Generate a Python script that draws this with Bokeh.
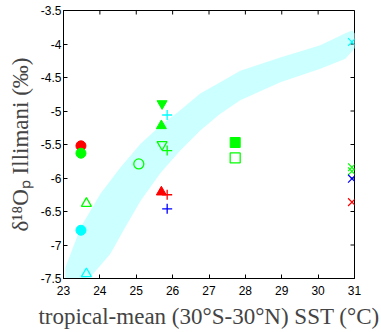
import math
from bokeh.plotting import figure
from bokeh.models import FixedTicker, Range1d
from bokeh.embed import file_html
from bokeh.resources import INLINE

# ---- axes / ticks ----
x_ticks = [23, 24, 25, 26, 27, 28, 29, 30, 31]
x_tick_labels = ["23", "24", "25", "26", "27", "28", "29", "30", "31"]
y_ticks = [-7.5, -7, -6.5, -6, -5.5, -5, -4.5, -4, -3.5]
y_tick_labels = ["-7.5", "-7", "-6.5", "-6", "-5.5", "-5", "-4.5", "-4", "-3.5"]
x_label = "tropical-mean (30°S-30°N) SST (°C)"
y_label = "δ¹⁸Oₚ Illimani (‰)"

# ---- shaded band (outline, data coords) ----
band_x = [23.05, 23.05, 23.47, 24.02, 24.57, 25.12, 25.66, 26.21, 26.76, 27.31, 27.86,
          28.96, 30.06, 30.75, 30.94, 31.10, 31.08,
          30.75, 30.06, 28.96, 27.86, 27.31, 26.76, 26.21, 25.66, 25.12, 24.65,
          24.29, 23.82, 23.27]
band_y = [-7.60, -7.34, -6.74, -6.23, -5.84, -5.49, -5.22, -4.99, -4.74, -4.57, -4.40,
          -4.20, -4.02, -3.84, -3.80, -3.89, -4.02,
          -4.22, -4.37, -4.57, -4.84, -5.04, -5.29, -5.59, -5.93, -6.34, -6.78,
          -7.13, -7.43, -7.60]

# ---- data points ----
circle_filled_x = [23.48, 23.48, 23.48]
circle_filled_y = [-5.52, -5.63, -6.78]
circle_filled_c = ["#ff0000", "#00ff00", "#00ffff"]

circle_open_x = [25.07]
circle_open_y = [-5.79]
circle_open_c = ["#00ff00"]

tri_open_x = [23.63, 23.63]
tri_open_y = [-6.38, -7.43]
tri_open_c = ["#00ff00", "#00ffff"]

tri_filled_x = [25.69, 25.69]
tri_filled_y = [-5.22, -6.21]
tri_filled_c = ["#00ff00", "#ff0000"]

itri_filled_x = [25.71]
itri_filled_y = [-4.89]
itri_filled_c = ["#00ff00"]

itri_open_x = [25.71]
itri_open_y = [-5.50]
itri_open_c = ["#00ff00"]

plus_x = [25.85, 25.85, 25.85, 25.85]
plus_y = [-5.06, -5.59, -6.25, -6.46]
plus_c = ["#00ffff", "#00ff00", "#ff0000", "#0000ff"]

square_filled_x = [27.72]
square_filled_y = [-5.47]
square_filled_c = ["#00ff00"]

square_open_x = [27.72]
square_open_y = [-5.70]
square_open_c = ["#00ff00"]

xmark_x = [30.93, 30.93, 30.93, 30.93, 30.93]
xmark_y = [-3.97, -5.84, -5.90, -6.01, -6.36]
xmark_c = ["#00ffff", "#00ff00", "#00ff00", "#0000ff", "#ff0000"]

x0, x1 = x_ticks[0], x_ticks[-1]
y0, y1 = y_ticks[0], y_ticks[-1]

p = figure(width=381, height=332, output_backend="svg", toolbar_location=None,
           x_range=Range1d(x0, x1), y_range=Range1d(y0, y1),
           min_border_left=63, min_border_right=27, min_border_top=10, min_border_bottom=54)
p.outline_line_color = "black"
p.outline_line_width = 1
p.xgrid.visible = False
p.ygrid.visible = False
p.background_fill_color = "white"

p.patch(band_x, band_y, fill_color="#ccffff", line_color=None)

# mirrored inward ticks on top and right edges (half of each dash is clipped by the frame)
p.scatter(x_ticks, [y1] * len(x_ticks), marker="dash", angle=math.pi / 2, size=8,
          line_color="black", line_width=1)
p.scatter([x1] * len(y_ticks), y_ticks, marker="dash", size=8,
          line_color="black", line_width=1)

p.scatter(circle_filled_x, circle_filled_y, marker="circle", size=10,
          fill_color=circle_filled_c, line_color=circle_filled_c)
p.scatter(circle_open_x, circle_open_y, marker="circle", size=10,
          fill_color=None, line_color=circle_open_c, line_width=1.3)
p.scatter(tri_open_x, tri_open_y, marker="triangle", size=10,
          fill_color=None, line_color=tri_open_c, line_width=1.3)
p.scatter(tri_filled_x, tri_filled_y, marker="triangle", size=10,
          fill_color=tri_filled_c, line_color=tri_filled_c)
p.scatter(itri_filled_x, itri_filled_y, marker="inverted_triangle", size=10,
          fill_color=itri_filled_c, line_color=itri_filled_c)
p.scatter(itri_open_x, itri_open_y, marker="inverted_triangle", size=10,
          fill_color=None, line_color=itri_open_c, line_width=1.3)
p.scatter(plus_x, plus_y, marker="cross", size=10,
          line_color=plus_c, line_width=1.3)
p.scatter(square_filled_x, square_filled_y, marker="square", size=10,
          fill_color=square_filled_c, line_color=square_filled_c)
p.scatter(square_open_x, square_open_y, marker="square", size=10,
          fill_color=None, line_color=square_open_c, line_width=1.3)
p.scatter(xmark_x, xmark_y, marker="x", size=11,
          line_color=xmark_c, line_width=1.2)

x_over = {t: l for t, l in zip(x_ticks, x_tick_labels)}
y_over = {t: l for t, l in zip(y_ticks, y_tick_labels)}

def style(ax, ticks, over):
    ax.ticker = FixedTicker(ticks=ticks)
    ax.major_tick_in = 4
    ax.major_tick_out = 0
    ax.minor_tick_line_color = None
    ax.axis_line_color = "black"
    ax.major_tick_line_color = "black"
    ax.axis_line_width = 1
    ax.major_label_overrides = over
    ax.major_label_text_font = "Liberation Sans"
    ax.major_label_text_font_size = "12px"
    ax.major_label_text_color = "black"

xa = p.xaxis[0]
style(xa, x_ticks, x_over)
xa.major_label_standoff = 7
xa.axis_label = x_label
xa.axis_label_text_font = "Liberation Serif"
xa.axis_label_text_font_size = "23px"
xa.axis_label_text_font_style = "normal"
xa.axis_label_standoff = 6

ya = p.yaxis[0]
style(ya, y_ticks, y_over)
ya.major_label_standoff = 2
ya.axis_label = y_label
ya.axis_label_text_font = "Liberation Serif"
ya.axis_label_text_font_size = "23px"
ya.axis_label_text_font_style = "normal"
ya.axis_label_standoff = 5

open("out.html", "w").write(file_html(p, INLINE))
